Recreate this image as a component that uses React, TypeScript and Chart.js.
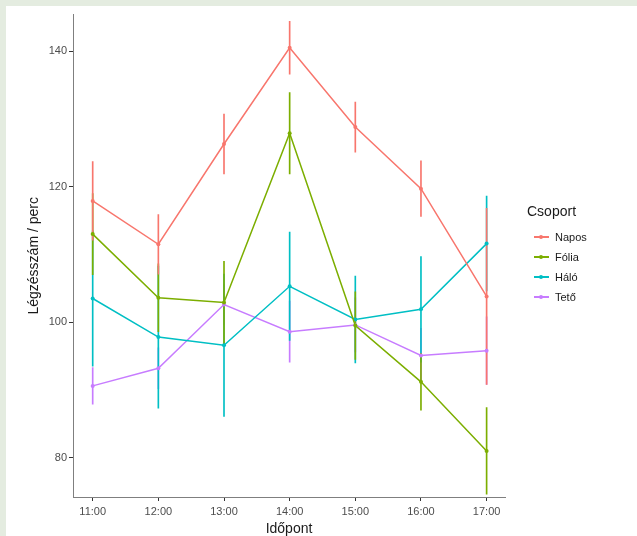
import React, { useEffect, useRef } from "react";
import { Chart, registerables } from "chart.js";

Chart.register(...registerables);

const timeLabels = ["11:00", "12:00", "13:00", "14:00", "15:00", "16:00", "17:00"];
const xPositions = [1, 2, 3, 4, 5, 6, 7];
const yTicks = [80, 100, 120, 140];
const seriesNames = ["Napos", "Fólia", "Háló", "Tető"];
const seriesColors = ["#F8766D", "#7CAE00", "#00BFC4", "#C77CFF"];

const naposMean = [117.9, 111.5, 126.3, 140.5, 128.8, 119.7, 103.8];
const naposErr = [5.8, 4.4, 4.4, 3.9, 3.7, 4.1, 13.0];
const foliaMean = [113.0, 103.6, 102.9, 127.9, 99.5, 91.2, 81.0];
const foliaErr = [6.0, 5.0, 6.1, 6.0, 5.0, 4.2, 6.4];
const haloMean = [103.5, 97.8, 96.6, 105.3, 100.4, 101.9, 111.6];
const haloErr = [10.0, 10.5, 10.5, 8.0, 6.4, 7.8, 7.0];
const tetoMean = [90.6, 93.2, 102.6, 98.6, 99.6, 95.1, 95.8];
const tetoErr = [2.7, 3.0, 3.0, 4.5, 4.0, 4.0, 5.0];

const FONT = "'Liberation Sans', Arial, sans-serif";

export default function App() {
  const ref = useRef<HTMLCanvasElement>(null);

  useEffect(() => {
    const means = [naposMean, foliaMean, haloMean, tetoMean];
    const errs = [naposErr, foliaErr, haloErr, tetoErr];
    const datasets: any[] = [];
    means.forEach((m, s) => {
      datasets.push({
        type: "bar",
        label: seriesNames[s] + " hiba",
        data: m.map((v, i) => ({ x: xPositions[i], y: [v - errs[s][i], v + errs[s][i]] })),
        backgroundColor: seriesColors[s],
        borderWidth: 0,
        barThickness: 1,
        grouped: false,
        order: 2,
      });
      datasets.push({
        type: "line",
        label: seriesNames[s],
        data: m.map((v, i) => ({ x: xPositions[i], y: v })),
        borderColor: seriesColors[s],
        backgroundColor: seriesColors[s],
        borderWidth: 1.5,
        pointRadius: 2,
        pointBorderWidth: 0,
        tension: 0,
        fill: false,
        order: 1,
      });
    });

    const chart = new Chart(ref.current!, {
      type: "line",
      data: { datasets },
      options: {
        animation: false,
        responsive: false,
        layout: { padding: { left: 0, right: 132, top: 2, bottom: 0 } },
        plugins: { legend: { display: false }, tooltip: { enabled: false } },
        scales: {
          x: {
            type: "linear",
            min: 0.7,
            max: 7.28,
            offset: false,
            afterBuildTicks: (s: any) => {
              s.ticks = xPositions.map((v) => ({ value: v }));
            },
            afterFit: (s: any) => {
              s.height = 39;
            },
            ticks: {
              callback: (v: any) => {
                const idx = xPositions.indexOf(Number(v));
                return idx >= 0 ? timeLabels[idx] : "";
              },
              color: "#4d4d4d",
              font: { family: FONT, size: 11 },
              padding: 4,
              maxRotation: 0,
              autoSkip: false,
            },
            grid: { drawOnChartArea: false, offset: false, tickLength: 4, color: "#333333" },
            border: { color: "#7f7f7f", width: 1 },
            title: {
              display: true,
              text: "Időpont",
              color: "#1a1a1a",
              font: { family: FONT, size: 14, lineHeight: 1 },
              padding: { top: 0, bottom: 0 },
            },
          },
          y: {
            type: "linear",
            min: 74.2,
            max: 145.4,
            afterBuildTicks: (s: any) => {
              s.ticks = yTicks.map((v) => ({ value: v }));
            },
            afterFit: (s: any) => {
              s.width = 67;
            },
            ticks: {
              color: "#4d4d4d",
              font: { family: FONT, size: 11 },
              padding: 2,
            },
            grid: { drawOnChartArea: false, offset: false, tickLength: 4, color: "#333333" },
            border: { color: "#7f7f7f", width: 1 },
            title: {
              display: true,
              text: "Légzésszám / perc",
              color: "#1a1a1a",
              font: { family: FONT, size: 14, lineHeight: 1.2 },
              padding: { top: 20, bottom: 0 },
            },
          },
        },
      },
    });
    return () => chart.destroy();
  }, []);

  return (
    <div
      style={{
        position: "fixed",
        left: 0,
        top: 0,
        width: 637,
        height: 536,
        background: "#e4ece0",
        overflow: "hidden",
      }}
    >
      <div
        style={{
          position: "absolute",
          left: 6,
          top: 6,
          width: 631,
          height: 530,
          background: "#ffffff",
        }}
      >
        <canvas ref={ref} width={631} height={530} style={{ display: "block", width: 631, height: 530 }} />
        <div
          style={{
            position: "absolute",
            left: 521,
            top: 197,
            fontFamily: FONT,
            fontSize: 14,
            lineHeight: "16px",
            color: "#1a1a1a",
          }}
        >
          Csoport
        </div>
        {seriesNames.map((name, i) => (
          <div
            key={name}
            style={{
              position: "absolute",
              left: 527,
              top: 224 + i * 20,
              height: 14,
              width: 100,
              fontFamily: FONT,
              fontSize: 11,
              lineHeight: "14px",
              color: "#1a1a1a",
            }}
          >
            <div
              style={{
                position: "absolute",
                left: 1,
                top: 6,
                width: 15,
                height: 2,
                background: seriesColors[i],
              }}
            />
            <div
              style={{
                position: "absolute",
                left: 6,
                top: 5,
                width: 4,
                height: 4,
                borderRadius: 2,
                background: seriesColors[i],
              }}
            />
            <div style={{ position: "absolute", left: 22, top: 0 }}>{name}</div>
          </div>
        ))}
      </div>
    </div>
  );
}
